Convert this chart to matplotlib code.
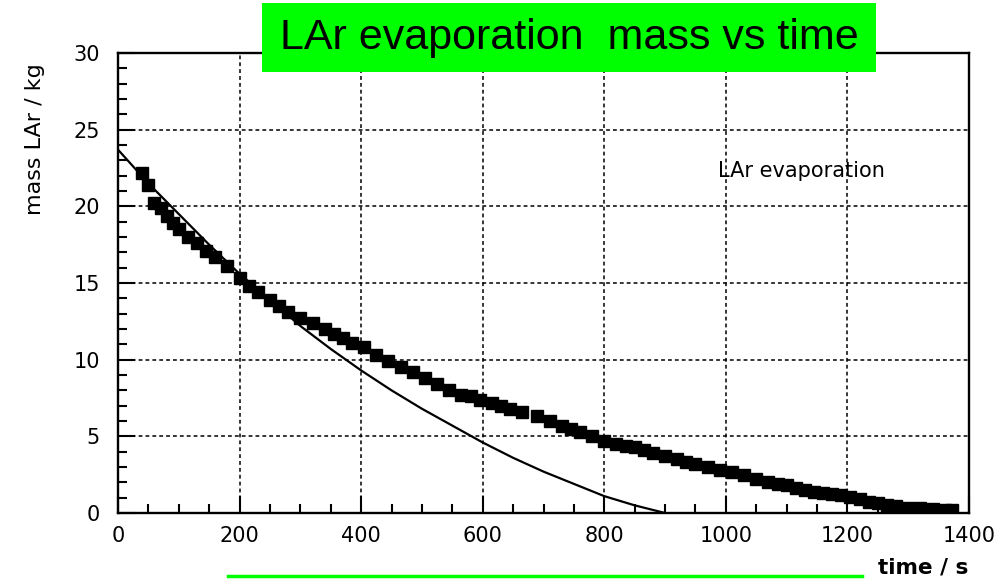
import numpy as np
import matplotlib.pyplot as plt
from matplotlib.patches import Rectangle
from matplotlib.lines import Line2D
from matplotlib.ticker import MultipleLocator
#####################################################
# measured mass of LAr (squares)
t_meas=[40,50,60,70,80,90,100,115,130,145,160,180,200,215,230,250,265,280,300,320,
        340,355,370,385,405,425,445,465,485,505,525,545,565,580,595,615,630,645,665,690,
        710,730,745,760,780,800,820,835,850,865,880,900,920,935,950,970,990,1010,1030,1050,
        1070,1085,1100,1115,1130,1145,1160,1175,1190,1205,1220,1235,1250,1265,1280,1300,1320,1340,1360,1372]
m_meas=[22.2,21.4,20.2,19.9,19.4,18.9,18.5,18.0,17.6,17.1,16.7,16.1,15.3,14.8,14.4,13.9,13.5,13.1,12.7,12.4,
        12.0,11.7,11.4,11.1,10.8,10.3,9.9,9.5,9.2,8.8,8.4,8.0,7.7,7.6,7.4,7.2,7.0,6.8,6.6,6.3,
        6.0,5.7,5.5,5.3,5.0,4.7,4.5,4.4,4.3,4.1,3.9,3.7,3.5,3.3,3.2,3.0,2.8,2.7,2.5,2.2,
        2.0,1.9,1.8,1.6,1.5,1.4,1.3,1.25,1.15,1.05,0.9,0.75,0.65,0.55,0.45,0.35,0.3,0.25,0.2,0.2]
# calculated curve (solid line)
t_fit=[0,50,100,150,200,250,300,350,400,450,500,550,600,650,700,750,800,850,900]
m_fit=[23.7,21.5,19.5,17.5,15.6,13.9,12.2,10.7,9.3,8.0,6.8,5.7,4.6,3.6,2.7,1.9,1.1,0.5,0.0]
xticks=[0,200,400,600,800,1000,1200,1400]
yticks=[0,5,10,15,20,25,30]
#####################################################
fig=plt.figure(figsize=(10,5.8),dpi=100)
ax=fig.add_axes([0.118,0.1155,0.851,0.793])
ax.plot(t_fit,m_fit,color='k',linewidth=1.6,zorder=3)
ax.plot(t_meas,m_meas,linestyle='none',marker='s',markersize=8.4,color='k',zorder=4)
ax.set_xlim(0,1400)
ax.set_ylim(0,30)
ax.set_xticks(xticks)
ax.set_yticks(yticks)
ax.xaxis.set_minor_locator(MultipleLocator(50))
ax.yaxis.set_minor_locator(MultipleLocator(1))
ax.tick_params(which='major',direction='in',length=12,width=1.5,labelsize=15,pad=9)
ax.tick_params(which='minor',direction='in',length=6.5,width=1.5)
ax.tick_params(axis='y',which='major',pad=13)
for lab in ax.get_xticklabels()+ax.get_yticklabels():
    lab.set_family('DejaVu Sans')
for s in ax.spines.values():
    s.set_linewidth(1.7)
ax.grid(True,which='major',color='k',linestyle=(0,(2.5,2)),linewidth=1.1)
ax.text(0.901,0.743,'LAr evaporation',transform=ax.transAxes,ha='right',va='center',
        fontsize=15,family='DejaVu Sans')
fig.text(0.035,0.76,'mass LAr / kg',rotation=90,ha='center',va='center',fontsize=16,family='DejaVu Sans')
fig.text(0.968,0.021,'time / s',ha='right',va='center',fontsize=15.5,family='DejaVu Sans',fontweight='bold')
# green title box and line at the bottom
fig.patches.append(Rectangle((0.262,0.876),0.614,0.119,transform=fig.transFigure,
                             facecolor='#00ff00',edgecolor='none',zorder=5))
fig.text(0.569,0.934,'LAr evaporation  mass vs time',ha='center',va='center',
         fontsize=31,family='Liberation Sans',zorder=6)
fig.lines.append(Line2D([0.228,0.862],[0.007,0.007],transform=fig.transFigure,color='#00ff00',linewidth=2.5))
plt.savefig('out.png',dpi=100)
